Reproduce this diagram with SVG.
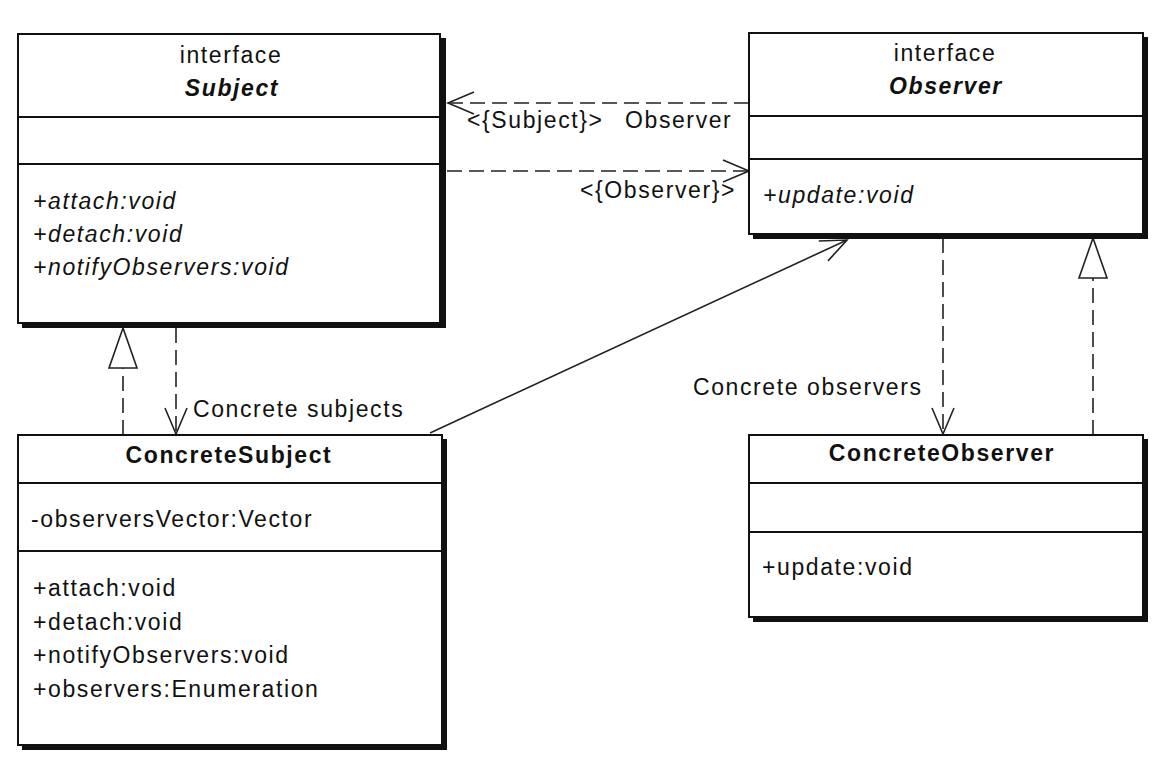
<svg xmlns="http://www.w3.org/2000/svg" width="1175" height="761" viewBox="0 0 1175 761">
<style>
text{font-family:"Liberation Sans",Arial,sans-serif;font-size:23px;fill:#111;letter-spacing:1.6px}
.c{text-anchor:middle}
.b{font-weight:bold}
.i{font-style:italic}
.shadow{fill:#111}
.box{fill:#fff;stroke:#111;stroke-width:2}
.div{stroke:#111;stroke-width:2}
.dash{fill:none;stroke:#222;stroke-width:1.6;stroke-dasharray:15 7}
.solid{fill:none;stroke:#222;stroke-width:1.6}
</style>
<defs>
<marker id="open" markerUnits="userSpaceOnUse" markerWidth="30" markerHeight="30" refX="0" refY="0" orient="auto" overflow="visible">
<path d="M-26,-11 L0,0 L-26,11" fill="none" stroke="#222" stroke-width="1.6"/>
</marker>
<marker id="tri" markerUnits="userSpaceOnUse" markerWidth="45" markerHeight="30" refX="0" refY="0" orient="auto" overflow="visible">
<path d="M0,0 L-40,-14 L-40,14 Z" fill="#fff" stroke="#222" stroke-width="1.6"/>
</marker>
</defs>
<rect width="1175" height="761" fill="#fff"/>

<g id="connectors">
<path class="dash" d="M749,103 L448,103" marker-end="url(#open)"/>
<path class="dash" d="M447,171 L749,171" marker-end="url(#open)"/>
<path class="dash" d="M123,435 L123,328" marker-end="url(#tri)"/>
<path class="dash" d="M176,328 L176,434" marker-end="url(#open)"/>
<path class="solid" d="M430,433 L847,240" marker-end="url(#open)"/>
<path class="dash" d="M943,238 L943,434" marker-end="url(#open)"/>
<path class="dash" d="M1093,435 L1093,238" marker-end="url(#tri)"/>
<text x="467" y="128">&lt;{Subject}&gt;</text>
<text x="625" y="128">Observer</text>
<text x="580" y="198">&lt;{Observer}&gt;</text>
<text x="193" y="417">Concrete subjects</text>
<text x="693" y="395">Concrete observers</text>
</g>

<g id="subject">
<rect class="shadow" x="22" y="38" width="424" height="290"/>
<rect class="box" x="18" y="34" width="422" height="289"/>
<line class="div" x1="18" y1="117" x2="440" y2="117"/>
<line class="div" x1="18" y1="164" x2="440" y2="164"/>
<text class="c" x="231" y="63">interface</text>
<text class="c b i" x="232" y="96">Subject</text>
<text class="i" x="33" y="209">+attach:void</text>
<text class="i" x="33" y="242">+detach:void</text>
<text class="i" x="33" y="275">+notifyObservers:void</text>
</g>

<g id="observer">
<rect class="shadow" x="753" y="37" width="395" height="202"/>
<rect class="box" x="749" y="33" width="394" height="201"/>
<line class="div" x1="749" y1="116" x2="1143" y2="116"/>
<line class="div" x1="749" y1="159" x2="1143" y2="159"/>
<text class="c" x="945" y="61">interface</text>
<text class="c b i" x="946" y="94">Observer</text>
<text class="i" x="763" y="203">+update:void</text>
</g>

<g id="concreteSubject">
<rect class="shadow" x="22" y="439" width="425" height="311"/>
<rect class="box" x="18" y="435" width="424" height="310"/>
<line class="div" x1="18" y1="483" x2="442" y2="483"/>
<line class="div" x1="18" y1="551" x2="442" y2="551"/>
<text class="c b" x="229" y="463">ConcreteSubject</text>
<text x="31" y="527">-observersVector:Vector</text>
<text x="33" y="596">+attach:void</text>
<text x="33" y="630">+detach:void</text>
<text x="33" y="663">+notifyObservers:void</text>
<text x="33" y="697">+observers:Enumeration</text>
</g>

<g id="concreteObserver">
<rect class="shadow" x="753" y="439" width="395" height="183"/>
<rect class="box" x="749" y="435" width="394" height="182"/>
<line class="div" x1="749" y1="483" x2="1143" y2="483"/>
<line class="div" x1="749" y1="532" x2="1143" y2="532"/>
<text class="c b" x="942" y="461">ConcreteObserver</text>
<text x="762" y="575">+update:void</text>
</g>
</svg>
